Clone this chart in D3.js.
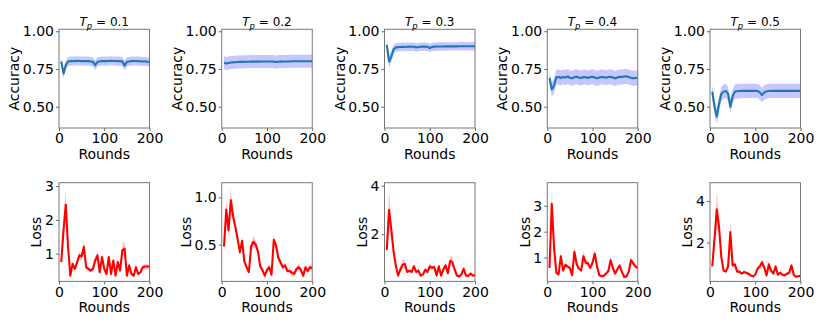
<!DOCTYPE html>
<html>
<head>
<meta charset="utf-8">
<script src="https://cdn.jsdelivr.net/npm/d3@7"></script>
<style>
  body { margin: 0; background: #fff; }
  svg { display: block; font-family: "DejaVu Sans", sans-serif; }
</style>
</head>
<body>
<svg id="chart" width="830" height="332"></svg>
<script>
// rounds on the x axis
const rounds = [5, 10, 15, 20, 25, 30, 35, 40, 45, 50, 55, 60, 65, 70, 75, 80, 85, 90, 95, 100,
  105, 110, 115, 120, 125, 130, 135, 140, 145, 150, 155, 160, 165, 170, 175, 180, 185, 190, 195, 200];

const tpValues = ['0.1', '0.2', '0.3', '0.4', '0.5'];

// accuracy (mean and std) per panel
const acc1 = [0.800, 0.720, 0.775, 0.800, 0.802, 0.803, 0.802, 0.804, 0.803, 0.802, 0.803, 0.802, 0.803, 0.800, 0.797, 0.775, 0.797, 0.801, 0.802, 0.803,
  0.802, 0.803, 0.804, 0.803, 0.803, 0.802, 0.802, 0.800, 0.772, 0.797, 0.800, 0.802, 0.803, 0.803, 0.802, 0.801, 0.800, 0.801, 0.798, 0.797];
const acc1Std = [0.030, 0.035, 0.032, 0.030, 0.030, 0.030, 0.030, 0.030, 0.030, 0.030, 0.030, 0.030, 0.030, 0.030, 0.030, 0.032, 0.030, 0.030, 0.030, 0.030,
  0.030, 0.030, 0.030, 0.030, 0.030, 0.030, 0.030, 0.030, 0.032, 0.030, 0.030, 0.030, 0.030, 0.030, 0.030, 0.030, 0.030, 0.030, 0.030, 0.030];

const acc2 = [0.792, 0.786, 0.790, 0.793, 0.794, 0.795, 0.796, 0.797, 0.797, 0.798, 0.798, 0.798, 0.799, 0.799, 0.799, 0.799, 0.800, 0.800, 0.800, 0.800,
  0.800, 0.800, 0.799, 0.796, 0.798, 0.799, 0.800, 0.800, 0.800, 0.800, 0.801, 0.801, 0.801, 0.801, 0.801, 0.801, 0.801, 0.801, 0.801, 0.801];
const acc2Std = [0.043, 0.043, 0.043, 0.043, 0.043, 0.043, 0.043, 0.043, 0.043, 0.043, 0.043, 0.043, 0.043, 0.043, 0.043, 0.043, 0.043, 0.043, 0.043, 0.043,
  0.043, 0.043, 0.043, 0.043, 0.043, 0.043, 0.043, 0.043, 0.043, 0.043, 0.043, 0.043, 0.043, 0.043, 0.043, 0.043, 0.043, 0.043, 0.043, 0.043];

const acc3 = [0.910, 0.800, 0.830, 0.880, 0.892, 0.895, 0.896, 0.897, 0.896, 0.897, 0.898, 0.897, 0.897, 0.893, 0.896, 0.897, 0.898, 0.898, 0.897, 0.889,
  0.896, 0.898, 0.899, 0.899, 0.899, 0.899, 0.900, 0.900, 0.900, 0.900, 0.900, 0.900, 0.901, 0.901, 0.901, 0.901, 0.901, 0.901, 0.901, 0.901];
const acc3Std = [0.030, 0.040, 0.035, 0.030, 0.028, 0.028, 0.028, 0.028, 0.028, 0.028, 0.028, 0.028, 0.028, 0.028, 0.028, 0.028, 0.028, 0.028, 0.028, 0.028,
  0.028, 0.028, 0.028, 0.028, 0.028, 0.028, 0.028, 0.028, 0.028, 0.028, 0.028, 0.028, 0.028, 0.028, 0.028, 0.028, 0.028, 0.028, 0.028, 0.028];

const acc4 = [0.690, 0.615, 0.640, 0.695, 0.697, 0.690, 0.697, 0.693, 0.700, 0.692, 0.688, 0.696, 0.699, 0.694, 0.690, 0.697, 0.695, 0.690, 0.697, 0.699,
  0.693, 0.688, 0.693, 0.697, 0.696, 0.692, 0.697, 0.698, 0.694, 0.688, 0.694, 0.698, 0.697, 0.700, 0.702, 0.697, 0.692, 0.688, 0.690, 0.692];
const acc4Std = [0.050, 0.048, 0.050, 0.050, 0.050, 0.050, 0.050, 0.050, 0.050, 0.050, 0.050, 0.050, 0.050, 0.050, 0.050, 0.050, 0.050, 0.050, 0.050, 0.050,
  0.050, 0.050, 0.050, 0.050, 0.050, 0.050, 0.050, 0.050, 0.050, 0.050, 0.050, 0.050, 0.050, 0.050, 0.050, 0.050, 0.050, 0.050, 0.050, 0.050];

const acc5 = [0.600, 0.500, 0.435, 0.520, 0.585, 0.600, 0.605, 0.585, 0.500, 0.570, 0.600, 0.603, 0.604, 0.605, 0.605, 0.605, 0.605, 0.605, 0.605, 0.605,
  0.605, 0.595, 0.577, 0.595, 0.602, 0.604, 0.605, 0.605, 0.605, 0.605, 0.605, 0.605, 0.605, 0.605, 0.605, 0.605, 0.605, 0.605, 0.605, 0.605];
const acc5Std = [0.045, 0.050, 0.050, 0.050, 0.048, 0.048, 0.048, 0.048, 0.045, 0.048, 0.048, 0.048, 0.048, 0.048, 0.048, 0.048, 0.048, 0.048, 0.048, 0.048,
  0.048, 0.048, 0.048, 0.048, 0.048, 0.048, 0.048, 0.048, 0.048, 0.048, 0.048, 0.048, 0.048, 0.048, 0.048, 0.048, 0.048, 0.048, 0.048, 0.048];

// loss (mean and std) per panel
const loss1 = [0.75, 1.70, 2.45, 1.20, 0.35, 0.70, 0.55, 0.75, 0.95, 0.92, 1.20, 0.60, 0.55, 0.50, 0.55, 0.80, 0.95, 0.45, 0.90, 0.55,
  0.40, 0.90, 0.40, 0.80, 0.35, 0.75, 0.50, 1.10, 1.15, 0.35, 0.65, 0.40, 0.35, 0.60, 0.40, 0.45, 0.60, 0.62, 0.62, 0.62];
const loss1Std = [0.08, 0.30, 0.45, 0.20, 0.06, 0.08, 0.06, 0.08, 0.12, 0.10, 0.20, 0.08, 0.06, 0.06, 0.06, 0.10, 0.15, 0.06, 0.12, 0.08,
  0.06, 0.10, 0.06, 0.10, 0.06, 0.10, 0.06, 0.20, 0.20, 0.06, 0.08, 0.06, 0.06, 0.08, 0.06, 0.06, 0.07, 0.08, 0.08, 0.08];

const loss2 = [0.48, 0.87, 0.65, 0.97, 0.80, 0.69, 0.56, 0.42, 0.54, 0.32, 0.26, 0.21, 0.48, 0.53, 0.50, 0.43, 0.27, 0.23, 0.17, 0.23,
  0.26, 0.18, 0.55, 0.49, 0.36, 0.31, 0.26, 0.28, 0.22, 0.22, 0.20, 0.19, 0.24, 0.26, 0.23, 0.17, 0.26, 0.22, 0.26, 0.25];
const loss2Std = [0.03, 0.12, 0.06, 0.13, 0.07, 0.05, 0.05, 0.03, 0.04, 0.03, 0.03, 0.03, 0.05, 0.06, 0.05, 0.04, 0.03, 0.03, 0.03, 0.03,
  0.03, 0.03, 0.06, 0.05, 0.04, 0.03, 0.03, 0.03, 0.03, 0.03, 0.03, 0.03, 0.03, 0.03, 0.03, 0.03, 0.03, 0.03, 0.03, 0.03];

const loss3 = [1.35, 3.00, 2.20, 1.30, 0.70, 0.30, 0.55, 0.75, 0.78, 0.45, 0.50, 0.45, 0.68, 0.45, 0.50, 0.30, 0.35, 0.54, 0.45, 0.68,
  0.62, 0.65, 0.30, 0.68, 0.30, 0.55, 0.72, 0.40, 0.90, 0.85, 0.55, 0.30, 0.26, 0.35, 0.58, 0.30, 0.28, 0.38, 0.30, 0.32];
const loss3Std = [0.15, 0.85, 0.40, 0.15, 0.08, 0.06, 0.10, 0.20, 0.20, 0.08, 0.08, 0.08, 0.12, 0.08, 0.08, 0.06, 0.06, 0.10, 0.08, 0.12,
  0.10, 0.10, 0.06, 0.12, 0.06, 0.10, 0.12, 0.08, 0.20, 0.20, 0.10, 0.06, 0.06, 0.06, 0.10, 0.06, 0.06, 0.08, 0.06, 0.06];

const loss4 = [0.60, 3.08, 1.40, 0.42, 0.35, 1.05, 0.50, 0.72, 0.65, 0.60, 0.32, 1.22, 0.75, 0.57, 0.50, 1.05, 0.80, 0.78, 0.60, 0.80,
  1.15, 0.65, 0.32, 0.28, 0.30, 0.38, 0.48, 0.90, 0.60, 0.38, 0.55, 0.70, 0.45, 0.25, 0.27, 0.45, 0.90, 0.78, 0.65, 0.60];
const loss4Std = [0.06, 0.60, 0.25, 0.06, 0.06, 0.20, 0.06, 0.08, 0.08, 0.06, 0.06, 0.25, 0.10, 0.06, 0.06, 0.25, 0.12, 0.10, 0.06, 0.10,
  0.15, 0.08, 0.06, 0.06, 0.06, 0.06, 0.06, 0.12, 0.08, 0.06, 0.06, 0.08, 0.06, 0.06, 0.06, 0.06, 0.15, 0.10, 0.08, 0.06];

const loss5 = [0.85, 2.20, 3.60, 2.75, 1.30, 0.65, 0.60, 0.85, 2.50, 0.90, 0.95, 0.60, 0.60, 0.50, 0.58, 0.55, 0.50, 0.42, 0.37, 0.45,
  0.75, 0.85, 1.05, 0.80, 0.42, 0.95, 0.65, 0.50, 0.85, 0.45, 0.55, 0.45, 0.42, 0.50, 0.55, 0.90, 0.45, 0.35, 0.38, 0.40];
const loss5Std = [0.08, 0.30, 0.90, 0.40, 0.10, 0.06, 0.06, 0.10, 0.60, 0.12, 0.12, 0.06, 0.06, 0.06, 0.06, 0.06, 0.06, 0.06, 0.06, 0.06,
  0.08, 0.10, 0.20, 0.10, 0.06, 0.15, 0.08, 0.06, 0.12, 0.06, 0.06, 0.06, 0.06, 0.06, 0.06, 0.15, 0.06, 0.06, 0.06, 0.06];

// axis limits and ticks
const xTicks = [0, 100, 200];
const accDomain = [0.359, 1.013];
const accTicks = [0.50, 0.75, 1.00];
const lossDomains = [[0.18, 3.1], [0.11, 1.155], [0.06, 4.12], [0.08, 3.89], [0.13, 4.88]];
const lossTicks = [[1, 2, 3], [0.5, 1.0], [2, 4], [1, 2, 3], [2, 4]];
const lossTickFormats = ['d', '.1f', 'd', 'd', 'd'];

const accSeries = [[acc1, acc1Std], [acc2, acc2Std], [acc3, acc3Std], [acc4, acc4Std], [acc5, acc5Std]];
const lossSeries = [[loss1, loss1Std], [loss2, loss2Std], [loss3, loss3Std], [loss4, loss4Std], [loss5, loss5Std]];

const svg = d3.select('#chart');
const panelW = 90.5;
const panelH = 98.7;
const colX = i => 59 + i * 162.75;
const rowY = [29.3, 182.7];

function drawPanel(left, top, mean, std, yDomain, yTicks, yFormat, opts) {
  const g = svg.append('g').attr('transform', `translate(${left},${top})`);
  const x = d3.scaleLinear().domain([0, 200]).range([0, panelW]);
  const y = d3.scaleLinear().domain(yDomain).range([panelH, 0]);
  const clipId = 'clip' + opts.id;

  g.append('clipPath').attr('id', clipId)
    .append('rect').attr('width', panelW).attr('height', panelH);

  const data = rounds.map((r, i) => ({ r: r, m: mean[i], s: std[i] }));

  const area = d3.area()
    .x(d => x(d.r))
    .y0(d => y(d.m - d.s))
    .y1(d => y(d.m + d.s));
  const line = d3.line()
    .x(d => x(d.r))
    .y(d => y(d.m));

  const plot = g.append('g').attr('clip-path', `url(#${clipId})`);
  plot.append('path')
    .attr('d', area(data))
    .attr('fill', opts.band)
    .attr('fill-opacity', opts.bandOpacity)
    .attr('stroke', 'none');
  plot.append('path')
    .attr('d', line(data))
    .attr('fill', 'none')
    .attr('stroke', opts.color)
    .attr('stroke-width', 2.1)
    .attr('stroke-linejoin', 'round');

  // frame
  g.append('rect')
    .attr('width', panelW)
    .attr('height', panelH)
    .attr('fill', 'none')
    .attr('stroke', '#777')
    .attr('stroke-width', 1);

  const xAxis = g.append('g')
    .attr('transform', `translate(0,${panelH})`)
    .call(d3.axisBottom(x).tickValues(xTicks).tickSize(3).tickPadding(2.5).tickFormat(d3.format('d')));
  const yAxis = g.append('g')
    .call(d3.axisLeft(y).tickValues(yTicks).tickSize(3).tickPadding(2).tickFormat(d3.format(yFormat)));

  [xAxis, yAxis].forEach(a => {
    a.select('.domain').remove();
    a.selectAll('.tick line').attr('stroke', '#666');
    a.selectAll('.tick text')
      .attr('fill', '#000')
      .style('font-family', '"DejaVu Sans", sans-serif')
      .style('font-size', '14px');
  });

  g.append('text')
    .attr('x', panelW / 2)
    .attr('y', panelH + 30.7)
    .attr('text-anchor', 'middle')
    .style('font-size', '14px')
    .text('Rounds');

  const box = yAxis.node().getBBox();
  g.append('text')
    .attr('transform', `translate(${box.x - 3.8},${panelH / 2}) rotate(-90)`)
    .attr('text-anchor', 'middle')
    .style('font-size', '14px')
    .text(opts.ylabel);

  if (opts.title) {
    const t = g.append('text')
      .attr('x', panelW / 2)
      .attr('y', -3.6)
      .attr('text-anchor', 'middle')
      .style('font-size', '12px');
    t.append('tspan').style('font-style', 'italic').text('T');
    t.append('tspan').style('font-style', 'italic').style('font-size', '8.5px').attr('dy', 3).text('p');
    t.append('tspan').attr('dy', -3).text(' = ' + opts.title);
  }
}

tpValues.forEach((tp, i) => {
  drawPanel(colX(i), rowY[0], accSeries[i][0], accSeries[i][1], accDomain, accTicks, '.2f', {
    id: 'a' + i, color: '#1f77b4', band: '#0000ff', bandOpacity: 0.22, ylabel: 'Accuracy', title: tp
  });
  drawPanel(colX(i), rowY[1], lossSeries[i][0], lossSeries[i][1], lossDomains[i], lossTicks[i], lossTickFormats[i], {
    id: 'l' + i, color: '#ff0000', band: '#ff0000', bandOpacity: 0.22, ylabel: 'Loss'
  });
});
</script>
</body>
</html>
